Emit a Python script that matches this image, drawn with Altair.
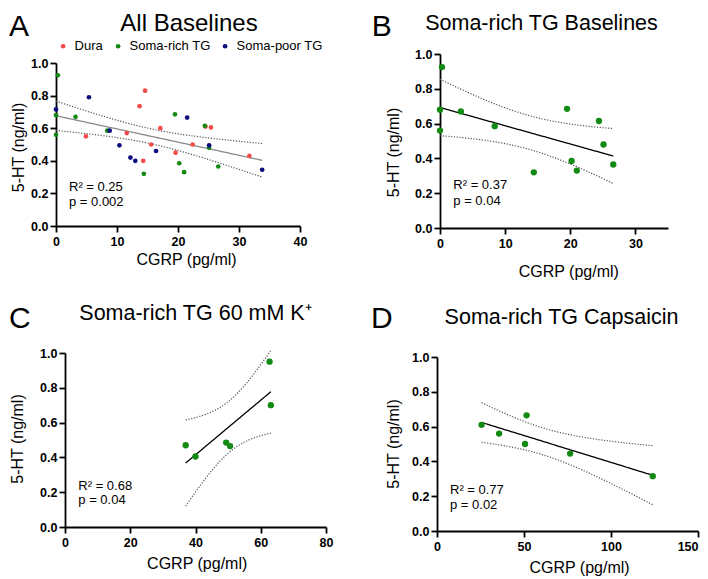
import numpy as np
import pandas as pd
import altair as alt

FONT = "Liberation Sans"

# ---------------- data ----------------
groups = ["Dura", "Soma-rich TG", "Soma-poor TG"]
group_colors = ["#F24B4B", "#138A13", "#0D0D80"]

dura_x = [4.9, 11.6, 13.7, 14.6, 14.3, 15.6, 17.1, 19.6, 22.4, 24.5, 25.4, 31.7]
dura_y = [0.55, 0.57, 0.735, 0.83, 0.40, 0.50, 0.60, 0.45, 0.50, 0.61, 0.605, 0.43]

rich_x = [0.3, 0.0, 0.0, 3.2, 8.4, 19.5, 24.4, 25.1, 14.4, 20.2, 21.0, 26.6]
rich_y = [0.925, 0.68, 0.56, 0.67, 0.585, 0.685, 0.615, 0.48, 0.32, 0.385, 0.33, 0.365]

poor_x = [0.0, 5.4, 8.8, 10.4, 12.2, 13.0, 16.4, 21.5, 25.1, 33.8]
poor_y = [0.715, 0.79, 0.585, 0.495, 0.42, 0.40, 0.46, 0.665, 0.495, 0.345]

k_x = [37.0, 40.0, 49.4, 50.6, 62.7, 63.1]
k_y = [0.47, 0.405, 0.485, 0.465, 0.95, 0.70]

cap_x = [25.6, 35.7, 51.5, 50.6, 76.5, 124.0]
cap_y = [0.61, 0.56, 0.665, 0.50, 0.445, 0.315]

titles = ["All Baselines", "Soma-rich TG Baselines", "Soma-rich TG 60 mM K\u207a", "Soma-rich TG Capsaicin"]
letters = ["A", "B", "C", "D"]
stats = [["R\u00b2 = 0.25", "p = 0.002"], ["R\u00b2 = 0.37", "p = 0.04"],
         ["R\u00b2 = 0.68", "p = 0.04"], ["R\u00b2 = 0.77", "p = 0.02"]]
y_ticks = [0.0, 0.2, 0.4, 0.6, 0.8, 1.0]
x_ticks = [[0, 10, 20, 30, 40], [0, 10, 20, 30], [0, 20, 40, 60, 80], [0, 50, 100, 150]]
x_domains = [[0, 40], [0, 35], [0, 80], [0, 150]]

T95 = {32: 2.0369, 10: 2.2281, 4: 2.7764}
GREEN = group_colors[1]


def fit_frame(xs, ys, steps=80):
    x = np.asarray(xs, float)
    y = np.asarray(ys, float)
    n = len(x)
    b, a = np.polyfit(x, y, 1)
    s = np.sqrt(np.sum((y - (a + b * x)) ** 2) / (n - 2))
    sxx = np.sum((x - x.mean()) ** 2)
    gx = np.linspace(x.min(), x.max(), steps)
    f = a + b * gx
    half = T95[n - 2] * s * np.sqrt(1.0 / n + (gx - x.mean()) ** 2 / sxx)
    return pd.DataFrame({"x": gx, "fit": f, "lo": f - half, "hi": f + half})


def text_layer(txt, x, y, size, align="left", weight="normal"):
    return alt.Chart(pd.DataFrame({"t": [txt]})).mark_text(
        font=FONT, fontSize=size, align=align, baseline="alphabetic",
        fontWeight=weight, color="black"
    ).encode(text="t:N", x=alt.value(x), y=alt.value(y))


def panel(pts, fitdf, idx, w, h, letter_xy, title_xy, title_size, stats_xy, ytitle_xy, xtitle_xy,
          fit_color, pt_size, color_enc=None, extra=None, last_right=False):
    xs = alt.Scale(domain=x_domains[idx], nice=False, zero=False)
    ys = alt.Scale(domain=[0, 1], nice=False)
    xkw = {}
    if last_right:
        xkw["labelAlign"] = {"condition": {"test": "datum.value == %d" % x_ticks[idx][-1], "value": "right"},
                             "value": "center"}
    xax = alt.Axis(values=x_ticks[idx], format="d", title="CGRP (pg/ml)",
                   titleX=xtitle_xy[0], titleY=xtitle_xy[1], titleAlign="center",
                   titleBaseline="alphabetic", labelFlush=False, labelOverlap=False, **xkw)
    yax = alt.Axis(values=y_ticks, format=".1f", title="5-HT (ng/ml)",
                   titleX=ytitle_xy[0], titleY=ytitle_xy[1], titleAngle=270,
                   titleAlign="center", titleBaseline="alphabetic", labelOverlap=False)
    base = alt.Chart(fitdf)
    X = alt.X("x:Q", scale=xs, axis=xax)
    ci_hi = base.mark_line(color="#555555", strokeWidth=1.2, strokeDash=[1.2, 1.6]).encode(
        x=X, y=alt.Y("hi:Q", scale=ys, axis=yax))
    ci_lo = base.mark_line(color="#555555", strokeWidth=1.2, strokeDash=[1.2, 1.6]).encode(
        x=X, y=alt.Y("lo:Q", scale=ys, axis=yax))
    fl = base.mark_line(color=fit_color, strokeWidth=1.3).encode(
        x=X, y=alt.Y("fit:Q", scale=ys, axis=yax))
    enc = dict(x=X, y=alt.Y("y:Q", scale=ys, axis=yax))
    if color_enc is not None:
        enc["color"] = color_enc
        p = alt.Chart(pts).mark_circle(size=pt_size, opacity=1).encode(**enc)
    else:
        p = alt.Chart(pts).mark_circle(size=pt_size, opacity=1, color=GREEN).encode(**enc)
    layers = [ci_hi, ci_lo, fl, p,
              text_layer(letters[idx], letter_xy[0], letter_xy[1], 30),
              text_layer(titles[idx], title_xy[0], title_xy[1], title_size, align="center"),
              text_layer(stats[idx][0], stats_xy[0], stats_xy[1], 13),
              text_layer(stats[idx][1], stats_xy[0], stats_xy[2], 13)]
    if extra:
        layers += extra
    return alt.layer(*layers).properties(width=w, height=h)


def spacer(w, h):
    return alt.Chart(pd.DataFrame({"v": [0]})).mark_point(opacity=0, size=1).encode(
        x=alt.value(0), y=alt.value(0)).properties(width=w, height=h)


# ---------------- panel A ----------------
ptsA = pd.DataFrame({
    "x": dura_x + rich_x + poor_x,
    "y": dura_y + rich_y + poor_y,
    "group": [groups[0]] * len(dura_x) + [groups[1]] * len(rich_x) + [groups[2]] * len(poor_x),
})
fitA = fit_frame(ptsA["x"], ptsA["y"])
colorA = alt.Color("group:N", scale=alt.Scale(domain=groups, range=group_colors),
                   legend=alt.Legend(orient="none", legendX=0.6, legendY=-23.5, direction="horizontal",
                                     title=None, labelFont=FONT, labelFontSize=13, labelColor="black",
                                     symbolSize=22, symbolType="circle", symbolStrokeWidth=0,
                                     labelOffset=5, columnPadding=8, padding=0))
anchor = alt.Chart(pd.DataFrame({"v": [0]})).mark_rule(strokeOpacity=0, strokeWidth=0.1).encode(
    x=alt.value(-47), x2=alt.value(-46), y=alt.value(-54), y2=alt.value(-53))
panelA = panel(ptsA, fitA, 0, 244, 163, (-47, -27), (133, -32), 24, (13, 128, 143),
               (-33, 84), (130, 38), "#8a8a8a", 22, color_enc=colorA, extra=[anchor])

# ---------------- panel B ----------------
ptsB = pd.DataFrame({"x": rich_x, "y": rich_y})
panelB = panel(ptsB, fit_frame(rich_x, rich_y), 1, 228, 174, (-68.3, -18), (101.5, -23.7), 21.5,
               (13.3, 135.3, 151), (-41.7, 98), (128.3, 48), "black", 40)

# ---------------- panel C ----------------
ptsC = pd.DataFrame({"x": k_x, "y": k_y})
panelC = panel(ptsC, fit_frame(k_x, k_y), 2, 261, 174, (-56, -25.3), (130.5, -32.7), 21.5,
               (13.3, 137.3, 151.3), (-42.5, 85.5), (131.7, 41), "black", 40)

# ---------------- panel D ----------------
ptsD = pd.DataFrame({"x": cap_x, "y": cap_y})
panelD = panel(ptsD, fit_frame(cap_x, cap_y), 3, 261, 174, (-66, -29), (124.5, -32.7), 21.5,
               (13, 137.3, 152.3), (-39, 86.5), (142, 41), "black", 40, last_right=True)


def vc(*c, spacing):
    return alt.vconcat(*c, spacing=spacing, bounds="flush").resolve_scale(color="independent")


def hc(*c, spacing):
    return alt.hconcat(*c, spacing=spacing, bounds="flush").resolve_scale(color="independent")


# with flush bounds a nested composite counts as zero-size, so spacings are offsets
colL = vc(spacer(1, 1), vc(panelA, hc(spacer(1, 1), panelC, spacing=8), spacing=127), spacing=8)
colR = vc(hc(spacer(1, 1), panelB, spacing=2), panelD, spacing=303)

chart = hc(colL, colR, spacing=381).properties(padding=0, background="white").configure_view(
    stroke="transparent"
).configure_axis(
    domainColor="black", domainWidth=1.8, tickColor="black", tickWidth=1.8, tickSize=6,
    labelFont=FONT, labelFontWeight="bold", labelFontSize=12.5, labelColor="black",
    titleFont=FONT, titleFontSize=16, titleFontWeight="normal", titleColor="black", grid=False
).configure_axisX(labelPadding=3).configure_axisY(labelPadding=2)

chart.save("out.html", embed_options={"renderer": "svg", "actions": False})
